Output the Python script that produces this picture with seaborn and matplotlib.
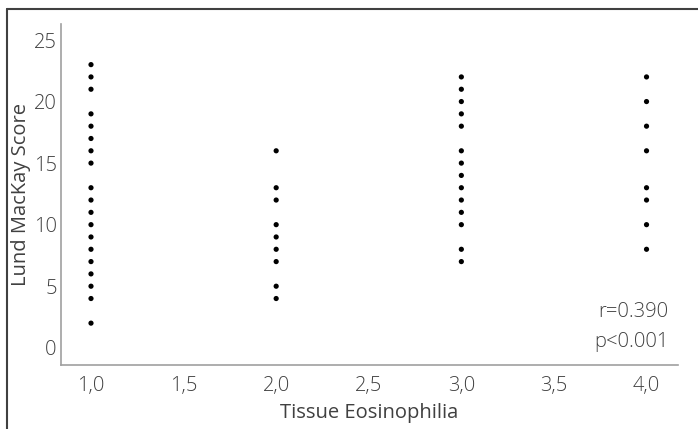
import pandas as pd
import matplotlib.pyplot as plt
import seaborn as sns
from matplotlib.lines import Line2D

# Lund MacKay scores, per eosinophilia grade
grade1 = [23, 22, 21, 19, 18, 17, 16, 15, 13, 12, 11, 10, 9, 8, 7, 6, 5, 4, 2]
grade2 = [16, 13, 12, 10, 9, 8, 7, 5, 4]
grade3 = [22, 21, 20, 19, 18, 16, 15, 14, 13, 12, 11, 10, 8, 7]
grade4 = [22, 20, 18, 16, 13, 12, 10, 8]

xticks = [1.0, 1.5, 2.0, 2.5, 3.0, 3.5, 4.0]
xticklabels = ['1,0', '1,5', '2,0', '2,5', '3,0', '3,5', '4,0']
yticks = [0, 5, 10, 15, 20, 25]

rows = []
for g, vals in zip([1.0, 2.0, 3.0, 4.0], [grade1, grade2, grade3, grade4]):
    for v in vals:
        rows.append({'eos': g, 'score': v})
data = pd.DataFrame(rows)

sns.set_style('white')
plt.rcParams['font.family'] = ['Open Sans', 'DejaVu Sans']
plt.rcParams['font.weight'] = 'light'
txt = '#404040'
fs = 14.5

fig = plt.figure(figsize=(6.98, 4.29), dpi=100)
ax = fig.add_axes([61 / 698, 64 / 429, 617 / 698, 341 / 429])

sns.scatterplot(data=data, x='eos', y='score', color='black', s=14,
                edgecolor='none', ax=ax)

ax.set_xlim(0.838, 4.17)
ax.set_ylim(-1.4, 26.3)
ax.set_xticks(xticks)
ax.set_xticklabels(xticklabels)
ax.set_yticks(yticks)
ax.tick_params(axis='x', length=0, pad=8, labelsize=fs, labelcolor=txt)
ax.tick_params(axis='y', length=0, pad=3, labelsize=fs, labelcolor=txt)
for side in ['top', 'right']:
    ax.spines[side].set_visible(False)
for side in ['left', 'bottom']:
    ax.spines[side].set_color('#a0a0a0')
    ax.spines[side].set_linewidth(1.2)

ax.set_xlabel('Tissue Eosinophilia', fontsize=fs, color=txt, labelpad=5)
ax.set_ylabel('Lund MacKay Score', fontsize=fs, color=txt, labelpad=2)

ax.text(0.985, 0.111, 'r=0.390\np<0.001', transform=ax.transAxes,
        ha='right', va='center', fontsize=fs, color=txt, linespacing=1.65)

# frame lines (top and left) of the cropped figure
fig.add_artist(Line2D([7 / 698, 1.0], [1 - 8.5 / 429, 1 - 8.5 / 429],
                      transform=fig.transFigure, color='#404040', lw=1.5))
fig.add_artist(Line2D([7 / 698, 7 / 698], [0, 1 - 8.5 / 429],
                      transform=fig.transFigure, color='#404040', lw=1.5))

fig.savefig('out.png', dpi=100)
